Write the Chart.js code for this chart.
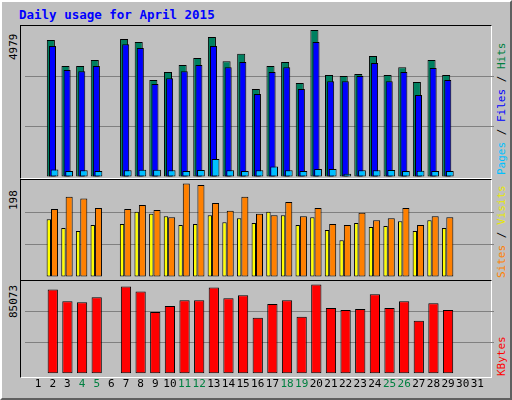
<!DOCTYPE html>
<html><head><meta charset="utf-8">
<script src="https://cdn.jsdelivr.net/npm/chart.js@4"></script>
<style>
html,body{margin:0;padding:0;background:#c0c0c0;}
#frame{position:absolute;left:0;top:0;width:508px;height:396px;border-left:2px solid #fff;border-top:2px solid #fff;border-right:2px solid #606060;border-bottom:2px solid #606060;background:#c0c0c0;}
.t{position:absolute;font-family:"DejaVu Sans Mono",monospace;white-space:nowrap;}
.rot{transform-origin:0 0;transform:rotate(-90deg);}
.box{position:absolute;left:20px;width:470px;border-left:1px solid #000;border-top:1px solid #000;border-right:1px solid #fff;border-bottom:1px solid #fff;}
canvas{position:absolute;}
</style></head><body>
<div id="frame"></div>
<div class="t" style="left:19px;top:7px;font-size:12.5px;font-weight:bold;color:#0000ff;">Daily usage for April 2015</div>
<div class="box" style="top:25px;height:152px;"></div>
<div class="box" style="top:179px;height:100px;"></div>
<div class="box" style="top:280px;height:96px;"></div>
<div class="t rot" style="left:7px;top:60px;font-size:11px;color:#000;">4979</div>
<div class="t rot" style="left:7px;top:210px;font-size:11px;color:#000;">198</div>
<div class="t rot" style="left:7px;top:318px;font-size:11px;color:#000;">85073</div>
<div class="t rot" style="left:495px;top:175px;font-size:11px;"><span style="color:#00c0ff">Pages</span><span style="color:#000"> / </span><span style="color:#0000ff">Files</span><span style="color:#000"> / </span><span style="color:#008040">Hits</span></div>
<div class="t rot" style="left:495px;top:278px;font-size:11px;"><span style="color:#ff8000">Sites</span><span style="color:#000"> / </span><span style="color:#e8e800">Visits</span></div>
<div class="t rot" style="left:495px;top:376px;font-size:11px;color:#ff0000;">KBytes</div>
<canvas id="c1" style="left:25px;top:26px;width:469px;height:151px;"></canvas>
<canvas id="c2" style="left:25px;top:180px;width:469px;height:97px;"></canvas>
<canvas id="c3" style="left:25px;top:281px;width:469px;height:114px;"></canvas>
<script>
const days=[1,2,3,4,5,6,7,8,9,10,11,12,13,14,15,16,17,18,19,20,21,22,23,24,25,26,27,28,29,30,31];
const weekendDays=[4,5,11,12,18,19,25,26];
const maxHits=4979, maxSites=198, maxKB=85073;
const hits=[null,4517,3660,3660,3860,null,4550,4450,3200,3460,3690,3920,4620,3820,4060,2900,3660,3790,3100,4850,3360,3330,3400,3990,3360,3620,3130,3860,3360,null,null];
const files=[null,4320,3530,3490,3660,null,4380,4250,3070,3260,3490,3690,4320,3620,3790,2740,3460,3620,2900,4450,3160,3160,3330,3760,3160,3460,2700,3590,3200,null,null];
const pages=[null,250,200,220,200,null,220,240,240,220,200,230,590,220,200,220,350,220,200,260,260,110,220,220,230,200,210,200,200,null,null];
const visits=[null,118,100,94,106,null,108,133,129,124,106,108,126,112,120,110,133,126,106,122,96,75,110,102,104,114,94,116,100,null,null];
const sites=[null,139,164,160,141,null,139,147,137,122,191,188,151,135,164,129,126,153,124,141,108,106,131,116,120,141,106,124,122,null,null];
const kbytes=[null,77310,66560,65670,70150,null,80000,75520,56720,62090,67460,67460,79100,69250,71940,51340,63880,67460,52240,81790,60300,58510,59400,72830,60300,66560,48650,64770,58510,null,null];

function pts(arr){return days.map((d,i)=>({x:d,y:arr[i]}));}
function xAxis(shift,show){
  return {type:'linear',min:0.5+shift,max:31.5+shift,display:show,
    afterBuildTicks:s=>{s.ticks=days.map(d=>({value:d}));},
    grid:{display:false,drawTicks:false},border:{display:false},
    ticks:{display:show,padding:4,autoSkip:false,maxRotation:0,font:{family:'DejaVu Sans Mono',size:11},
      color:c=>weekendDays.includes(c.tick.value)?'#008040':'#000'}};
}
function yAxis(max){
  return {min:0,max:max,ticks:{display:false,count:4},border:{display:false},
    grid:{drawTicks:false,tickLength:0,color:c=>(c.index===1||c.index===2)?'#808080':'rgba(0,0,0,0)'}};
}
function ds(arr,color,xid,bp,order){
  return {data:pts(arr),backgroundColor:color,borderColor:'#000',borderWidth:1,xAxisID:xid,order:order,
    barPercentage:bp,categoryPercentage:1,grouped:false,borderSkipped:false};
}
const common={responsive:false,animation:false,plugins:{legend:{display:false},tooltip:{enabled:false}},layout:{padding:0}};
function mk(id,w,h,datasets,scales){
  const c=document.getElementById(id);c.width=w;c.height=h;
  return new Chart(c,{type:'bar',data:{datasets},options:Object.assign({},common,{responsive:false,devicePixelRatio:1,scales})});
}
mk('c1',469,151,[
  ds(hits,'#008060','xh',0.55,3),ds(files,'#0000ff','xf',0.48,2),ds(pages,'#00c0ff','xp',0.53,1)],
  {xh:xAxis(0.25,false),xf:xAxis(0.14,false),xp:xAxis(0,false),y:yAxis(maxHits)});
mk('c2',469,97,[
  ds(visits,'#ffff00','xv',0.3,2),ds(sites,'#ff8000','xs',0.48,1)],
  {xv:xAxis(0.39,false),xs:xAxis(0,false),y:yAxis(maxSites)});
mk('c3',469,114,[ds(kbytes,'#ff0000','xk',0.7,1)],
  {xk:xAxis(0.12,true),y:yAxis(maxKB)});
</script>
</body></html>
